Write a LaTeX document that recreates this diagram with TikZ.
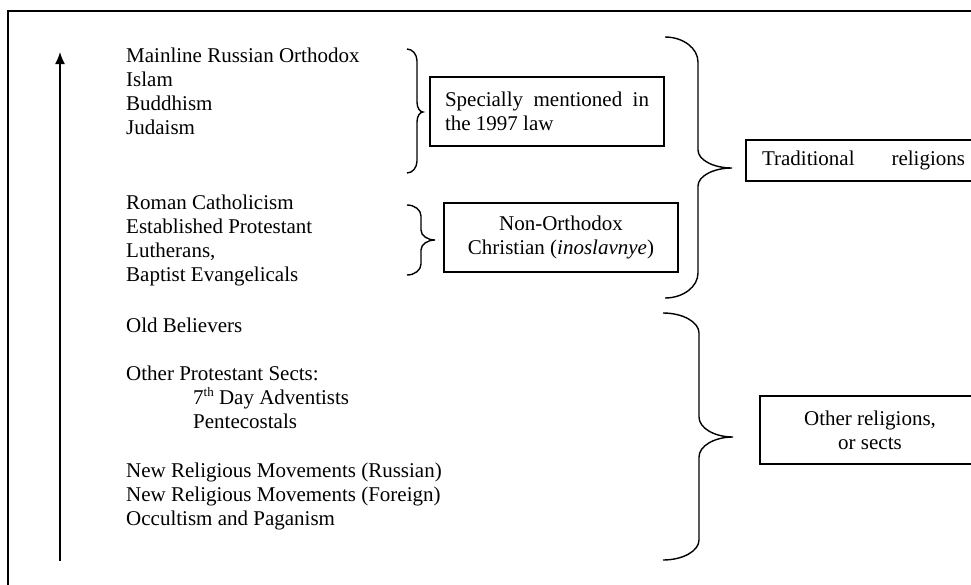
\documentclass[tikz,border=0pt]{standalone}
\usepackage{fontspec}
\setmainfont{Liberation Serif}
\usetikzlibrary{arrows.meta}
\newcommand\drawbrace[8]{% x0 x1 x2 ytop ymid ybot rEnd rMid
 \draw[bracket] (#1,#4) .. controls ({#1+0.55*(#2-#1)},#4) and (#2,{#4+0.45*#7}) .. (#2,{#4+#7})
  -- (#2,{#5-#8}) .. controls (#2,{#5-0.45*#8}) and ({#3-0.55*(#3-#2)},#5) .. (#3,#5)
  .. controls ({#3-0.55*(#3-#2)},#5) and (#2,{#5+0.45*#8}) .. (#2,{#5+#8})
  -- (#2,{#6-#7}) .. controls (#2,{#6-0.45*#7}) and ({#1+0.55*(#2-#1)},#6) .. (#1,#6);}
\begin{document}
\begin{tikzpicture}[x=1pt,y=-1pt,
  lbl/.style={anchor=base west,inner sep=0pt,font=\fontsize{21}{24}\selectfont},
  boxnode/.style={draw,line width=1.3pt,inner sep=0pt,font=\fontsize{21}{24}\selectfont},
  bracket/.style={line width=1.4pt}]
\useasboundingbox (0,0) rectangle (971,584);
\clip (0,0) rectangle (971,584);
% frame
\draw[line width=2pt] (8,11) rectangle (1000,620);
% arrow
\coordinate (abot) at (60,561);
\coordinate (atop) at (60,52);
\draw[line width=1.4pt,-{Latex[length=12pt,width=10pt]}] (abot) -- (atop);
% left list
\node[lbl] (t1) at (126,62) {Mainline Russian Orthodox};
\node[lbl] (t2) at (126,86) {Islam};
\node[lbl] (t3) at (126,110) {Buddhism};
\node[lbl] (t4) at (126,134) {Judaism};
\node[lbl] (t5) at (126,209) {Roman Catholicism};
\node[lbl] (t6) at (126,233) {Established Protestant};
\node[lbl] (t7) at (126,257) {Lutherans,};
\node[lbl] (t8) at (126,281) {Baptist Evangelicals};
\node[lbl] (t9) at (126,332) {Old Believers};
\node[lbl] (t10) at (126,380) {Other Protestant Sects:};
\node[lbl] (t11) at (193,404) {7{\fontsize{13}{14}\selectfont\raisebox{8pt}{th}} Day Adventists};
\node[lbl] (t12) at (193,428) {Pentecostals};
\node[lbl] (t13) at (126,477) {New Religious Movements (Russian)};
\node[lbl] (t14) at (126,501) {New Religious Movements (Foreign)};
\node[lbl] (t15) at (126,525) {Occultism and Paganism};
% braces
\drawbrace{407}{417}{423}{49}{112}{173}{12}{10}
\drawbrace{407}{421}{435}{205}{240}{275}{11}{10}
\drawbrace{665}{698}{732}{37}{168}{298}{25}{18}
\drawbrace{663}{699}{733}{313}{437}{560}{20}{20}
% boxes
\node[boxnode,text width=204pt,inner xsep=15pt,minimum height=69pt,align=justify] (b1) at (547,111.5)
  {Specially mentioned in the 1997 law};
\node[boxnode,minimum width=234pt,minimum height=69pt,align=center] (b2) at (561,237.5)
  {Non-Orthodox\\Christian (\textit{inoslavnye})};
\node[boxnode,minimum width=235pt,minimum height=41pt] (b3) at (863.5,160.5)
  {\hbox to 203pt{Traditional\hfill religions}};
\node[boxnode,minimum width=220pt,minimum height=68pt,align=center] (b4) at (870,430)
  {Other religions,\\or sects};
\end{tikzpicture}
\end{document}
